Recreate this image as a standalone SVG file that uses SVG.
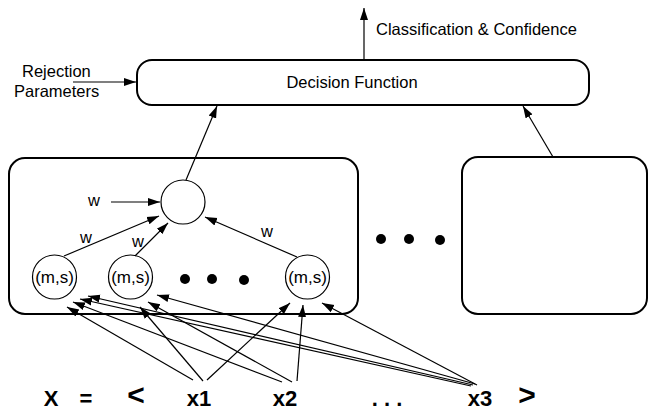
<svg xmlns="http://www.w3.org/2000/svg" width="649" height="411" viewBox="0 0 649 411">
<defs>
<marker id="ah" markerUnits="userSpaceOnUse" markerWidth="12" markerHeight="10" refX="12" refY="5" orient="auto">
<path d="M0,1 L12,5 L0,9 z" fill="#000"/>
</marker>
<style>
.box{fill:#fff;stroke:#000;stroke-width:2}
.c{fill:#fff;stroke:#000;stroke-width:1.2}
.ln{stroke:#000;stroke-width:1.2;fill:none;marker-end:url(#ah)}
.t{font-family:"Liberation Sans",Arial,sans-serif;font-size:16.5px;fill:#000}
.ct{font-family:"Liberation Sans",Arial,sans-serif;font-size:17px;fill:#000;text-anchor:middle}
.b{font-family:"Liberation Sans",Arial,sans-serif;font-size:22px;font-weight:bold;fill:#000;text-anchor:middle}
.big{font-size:30px}
.dot{fill:#000}
</style>
</defs>
<rect width="649" height="411" fill="#fff"/>

<g id="decision">
<rect class="box" x="137" y="60" width="452" height="45" rx="15"/>
<text class="t" x="352" y="88" text-anchor="middle">Decision Function</text>
</g>

<g id="output-label">
<text class="t" x="376" y="35">Classification &amp; Confidence</text>
</g>

<g id="rejection-label">
<text class="t" x="22" y="77">Rejection</text>
<text class="t" x="14" y="97">Parameters</text>
</g>

<g id="classifier-box">
<rect class="box" x="9" y="158" width="349" height="156" rx="16"/>
</g>

<g id="other-classifier-box">
<rect class="box" x="462" y="157" width="185" height="157" rx="16"/>
</g>

<g id="top-node">
<circle class="c" cx="183" cy="202" r="22"/>
</g>

<g id="ms1">
<circle class="c" cx="54.5" cy="277" r="22"/>
<text class="ct" x="54.5" y="283">(m,s)</text>
</g>
<g id="ms2">
<circle class="c" cx="130.5" cy="277" r="22"/>
<text class="ct" x="130.5" y="283">(m,s)</text>
</g>
<g id="ms3">
<circle class="c" cx="307.5" cy="277" r="22"/>
<text class="ct" x="307.5" y="283">(m,s)</text>
</g>

<g id="inner-dots">
<circle class="dot" cx="185" cy="279" r="5"/>
<circle class="dot" cx="212" cy="279" r="5"/>
<circle class="dot" cx="244" cy="280" r="5"/>
</g>

<g id="outer-dots">
<circle class="dot" cx="381" cy="239" r="5"/>
<circle class="dot" cx="409" cy="239" r="5"/>
<circle class="dot" cx="440" cy="240" r="5"/>
</g>

<g id="weight-labels">
<text class="t" x="88" y="206">w</text>
<text class="t" x="80" y="243">w</text>
<text class="t" x="132" y="247">w</text>
<text class="t" x="261" y="237">w</text>
</g>

<g id="input-vector">
<text class="b" x="51" y="406">X</text>
<text class="b" x="86" y="406">=</text>
<text class="b big" x="136" y="405">&lt;</text>
<text class="b" x="199" y="406">x1</text>
<text class="b" x="285" y="406">x2</text>
<text class="b" x="387" y="406">. . .</text>
<text class="b" x="480" y="406">x3</text>
<text class="b big" x="527" y="405">&gt;</text>
</g>

<g id="connectors">
<line class="ln" x1="364" y1="60" x2="364" y2="8"/>
<line class="ln" x1="73" y1="82" x2="136" y2="82"/>
<line class="ln" x1="186" y1="180" x2="217" y2="106"/>
<line class="ln" x1="553" y1="157" x2="523" y2="106"/>
<line class="ln" x1="111" y1="202" x2="160" y2="202"/>
<line class="ln" x1="64" y1="256" x2="159" y2="216"/>
<line class="ln" x1="135" y1="256" x2="168" y2="223"/>
<line class="ln" x1="297" y1="257" x2="205" y2="217"/>
<line class="ln" x1="193" y1="380" x2="67" y2="307"/>
<line class="ln" x1="203" y1="381" x2="140" y2="307"/>
<line class="ln" x1="207" y1="380" x2="290" y2="303"/>
<line class="ln" x1="282" y1="382" x2="73" y2="302"/>
<line class="ln" x1="292" y1="382" x2="148" y2="302"/>
<line class="ln" x1="297" y1="381" x2="303" y2="305"/>
<line class="ln" x1="477" y1="385" x2="322" y2="303"/>
<line class="ln" x1="471" y1="386" x2="80" y2="299"/>
<line class="ln" x1="473" y1="385" x2="88" y2="296"/>
<line class="ln" x1="475" y1="384" x2="157" y2="295"/>
</g>
</svg>
